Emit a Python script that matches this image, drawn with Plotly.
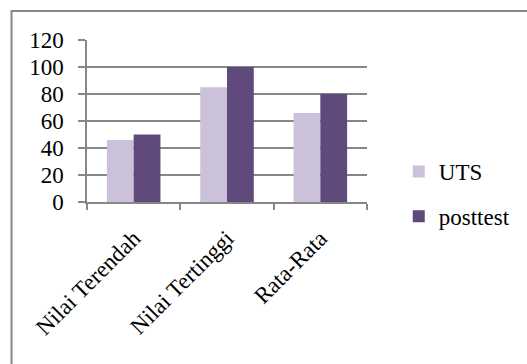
import plotly.graph_objects as go

categories = ["Nilai Terendah", "Nilai Tertinggi", "Rata-Rata"]
uts = [46, 85, 66]
posttest = [50, 100, 80]
y_ticks = [0, 20, 40, 60, 80, 100, 120]

FONT = "Liberation Serif, Times New Roman, serif"
GRAY = "#878787"
FS = 23

fig = go.Figure()
fig.add_trace(go.Bar(x=categories, y=uts, name="UTS", marker_color="#CCC1DA",
                     marker_line_width=0, legendgroup="a"))
fig.add_trace(go.Bar(x=categories, y=posttest, name="posttest", marker_color="#604A7B",
                     marker_line_width=0, legendgroup="b"))

L, R, T, B = 87, 158, 40, 162
W, H = 527, 364
pw = W - L - R
ph = H - T - B

fig.update_layout(
    width=W, height=H,
    margin=dict(l=L, r=R, t=T, b=B, pad=0),
    paper_bgcolor="white", plot_bgcolor="white",
    font=dict(family=FONT, size=FS, color="black"),
    barmode="group", bargap=0.426, bargroupgap=0,
    showlegend=True,
    legend=dict(x=(401 - L) / pw, xanchor="left", y=(202 - 150) / ph, yanchor="top",
                traceorder="grouped", tracegroupgap=12,
                font=dict(family=FONT, size=FS, color="black"),
                bgcolor="rgba(0,0,0,0)"),
    xaxis=dict(type="category", tickson="boundaries", ticks="outside", ticklen=6,
               tickcolor=GRAY, tickwidth=1.5, showline=True, linecolor=GRAY, linewidth=1.5,
               tickangle=-45, showgrid=False, ticklabelstandoff=12,
               tickfont=dict(family=FONT, size=FS, color="black")),
    yaxis=dict(range=[0, 120], tickvals=y_ticks, ticks="outside", ticklen=7,
               tickcolor=GRAY, tickwidth=1.5, showline=True, linecolor=GRAY, linewidth=1.5,
               showgrid=True, gridcolor=GRAY, gridwidth=1.5, zeroline=False,
               ticklabelstandoff=10,
               tickfont=dict(family=FONT, size=FS, color="black")),
    shapes=[dict(type="rect", xref="paper", yref="paper",
                 x0=(11 - L) / pw, x1=(540 - L) / pw,
                 y0=(202 - 380) / ph, y1=(202 - 11) / ph,
                 line=dict(color=GRAY, width=2), fillcolor="rgba(0,0,0,0)", layer="below")],
)

fig.write_html("out.html")
